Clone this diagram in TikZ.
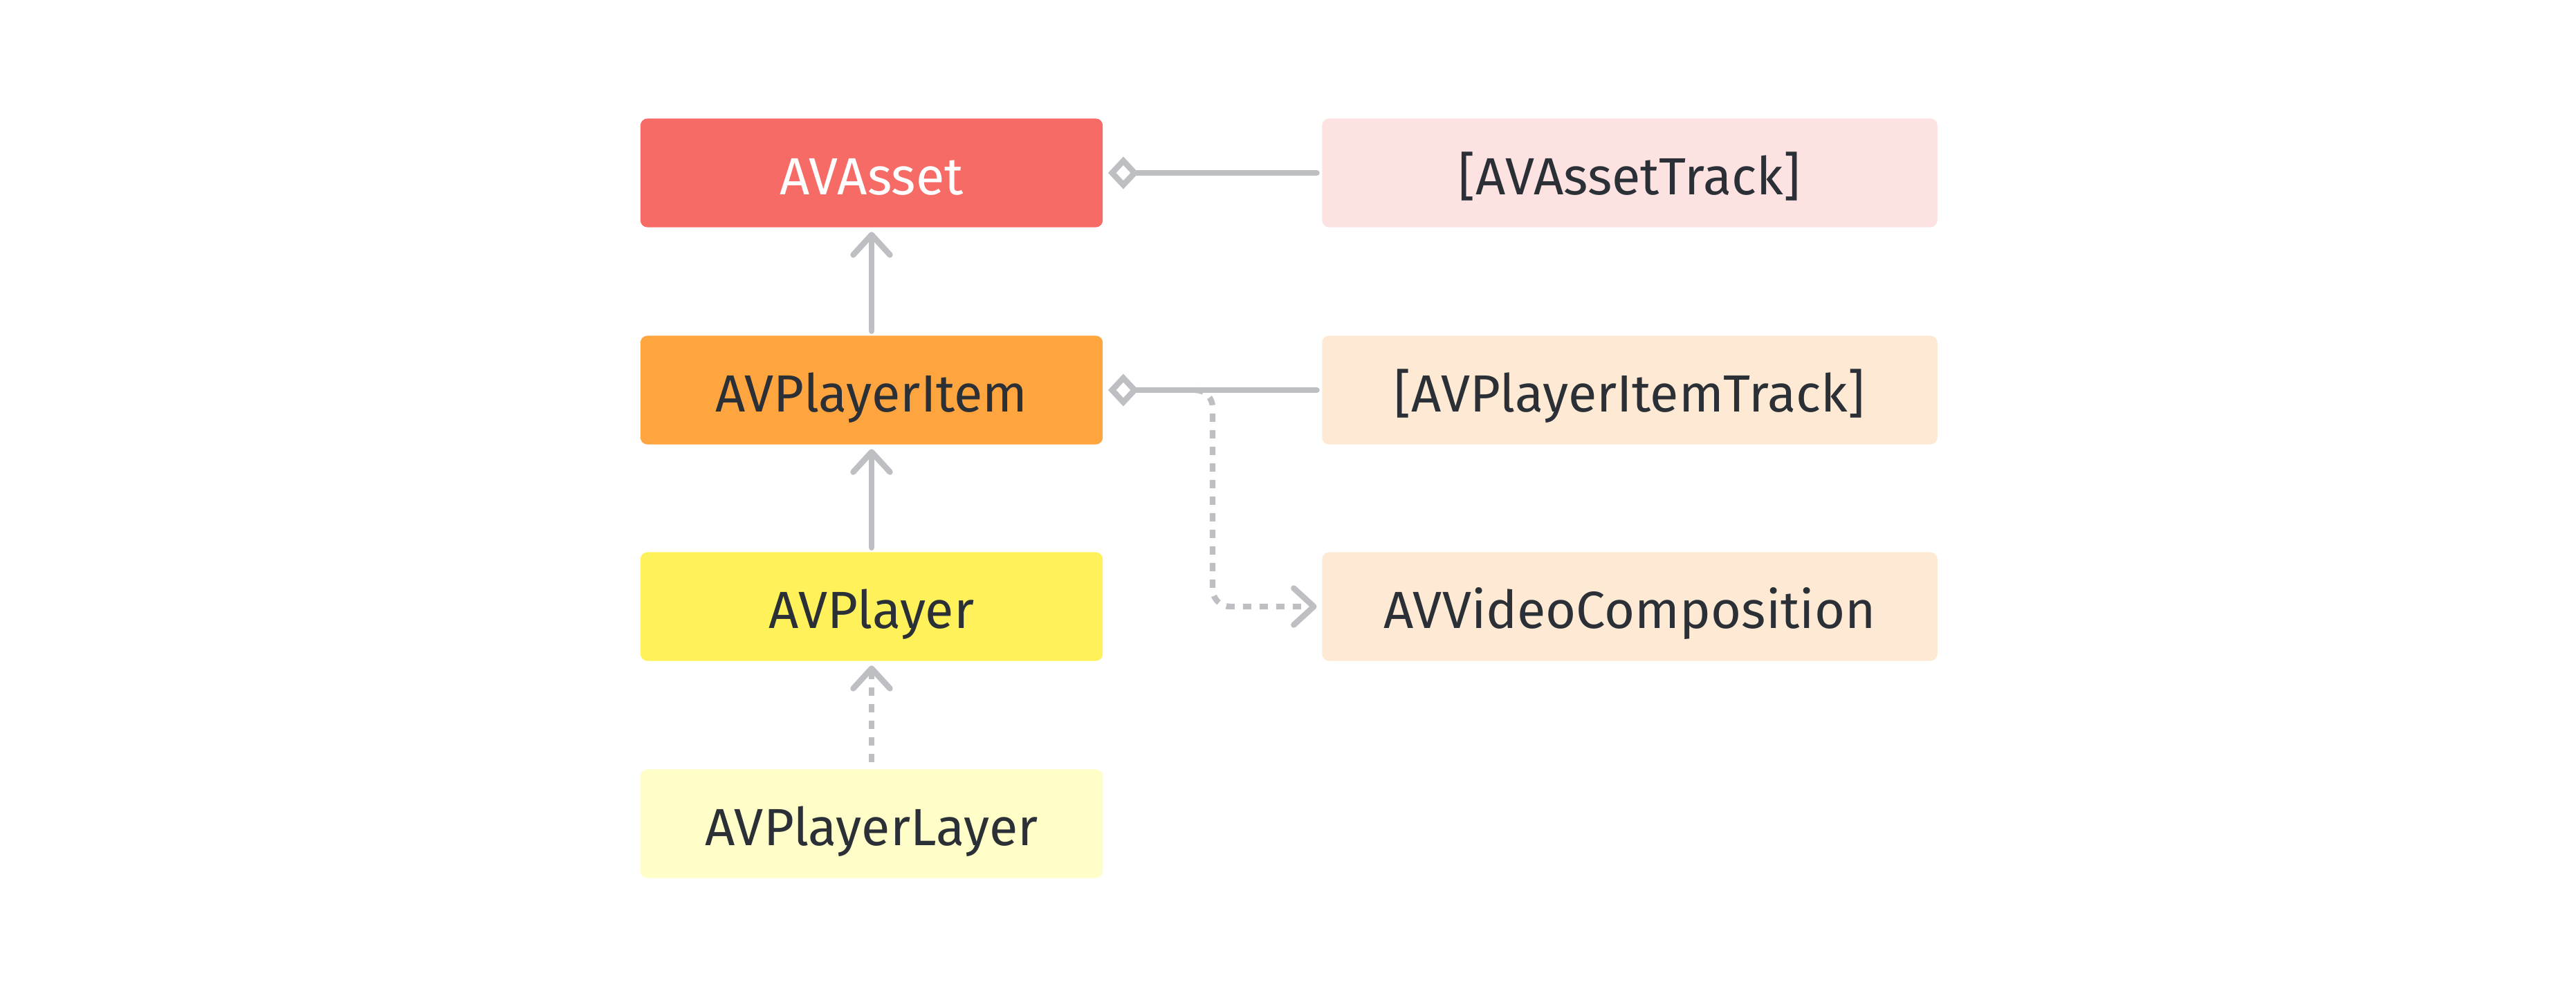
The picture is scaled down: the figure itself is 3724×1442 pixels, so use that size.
\documentclass[tikz,border=0pt]{standalone}
\usepackage{fontspec}
\setmainfont{Fira Sans}
\usetikzlibrary{arrows.meta}
\providecommand{\Asset}{F76B67}
\providecommand{\Item}{FEA53F}
\providecommand{\Player}{FFF15A}
\newcommand{\Unit}{0.01cm}
\newcommand{\Wire}{2.4pt}
\definecolor{asset}{HTML}{\Asset}
\definecolor{item}{HTML}{\Item}
\definecolor{player}{HTML}{\Player}
\definecolor{layer}{HTML}{FFFDC8}
\definecolor{assettrack}{HTML}{FDE2E2}
\definecolor{itemtrack}{HTML}{FEEAD4}
\definecolor{wire}{HTML}{BDBFC3}
\definecolor{ink}{HTML}{2B2F36}

\tikzset{
  cls/.style={rectangle, rounded corners=0.1cm, minimum width=6.68cm, minimum height=1.57cm,
    inner sep=0pt, text height=18pt, text depth=0.2pt, text=ink,
    font=\fontsize{21.5pt}{26pt}\selectfont},
  wide/.style={cls, minimum width=8.89cm},
  wire/.style={draw=wire, line width=\Wire, line cap=round},
  dashwire/.style={wire, line cap=butt, dash pattern=on 0.12cm off 0.12cm},
  barb/.style={arrows={-Straight Barb[length=0.29cm,width=0.53cm,round]}},
  owns/.style={wire, arrows={Diamond[open,length=0.44cm,width=0.47cm,fill=white]-},
    shorten <=0.07cm, shorten >=0.07cm},
  uses/.style={wire, barb, shorten <=0.06cm, shorten >=0.06cm},
}

\begin{document}
\begin{tikzpicture}[x=\Unit,y=\Unit, line join=round]

  \useasboundingbox (0,0) rectangle (3724,1442);

  % ---- the chain on the left ----------------------------------------------
  \node[cls, fill=asset, text=white] (asset)  at (1260,1192) {AVAsset};
  \node[cls, fill=item]              (item)   at (1260,878)  {AVPlayerItem};
  \node[cls, fill=player]            (player) at (1260,565)  {AVPlayer};
  \node[cls, fill=layer]             (layer)  at (1260,251)  {AVPlayerLayer};

  % ---- what the chain holds -----------------------------------------------
  \node[wide, fill=assettrack] (assettrack) at (2356,1192) {[AVAssetTrack]};
  \node[wide, fill=itemtrack]  (itemtrack)  at (2356,878)  {[AVPlayerItemTrack]};
  \node[wide, fill=itemtrack]  (comp)       at (2356,565)  {AVVideoComposition};

  % ---- links --------------------------------------------------------------
  \draw[owns] (asset.east) -- (assettrack.west);
  \draw[owns] (item.east) -- (itemtrack.west);
  \draw[uses] (item.north) -- (asset.south);
  \draw[uses] (player.north) -- (item.south);
  \draw[dashwire, barb, shorten <=0.1cm, shorten >=0.06cm] (layer.north) -- (player.south);

  % the composition branches off the track line
  \coordinate (fork) at (1753,878);
  \draw[dashwire, barb, rounded corners=0.25cm, shorten >=0.07cm]
    ([xshift=-0.25cm]fork) -| (fork |- comp.west) -- (comp.west);

\end{tikzpicture}
\end{document}
